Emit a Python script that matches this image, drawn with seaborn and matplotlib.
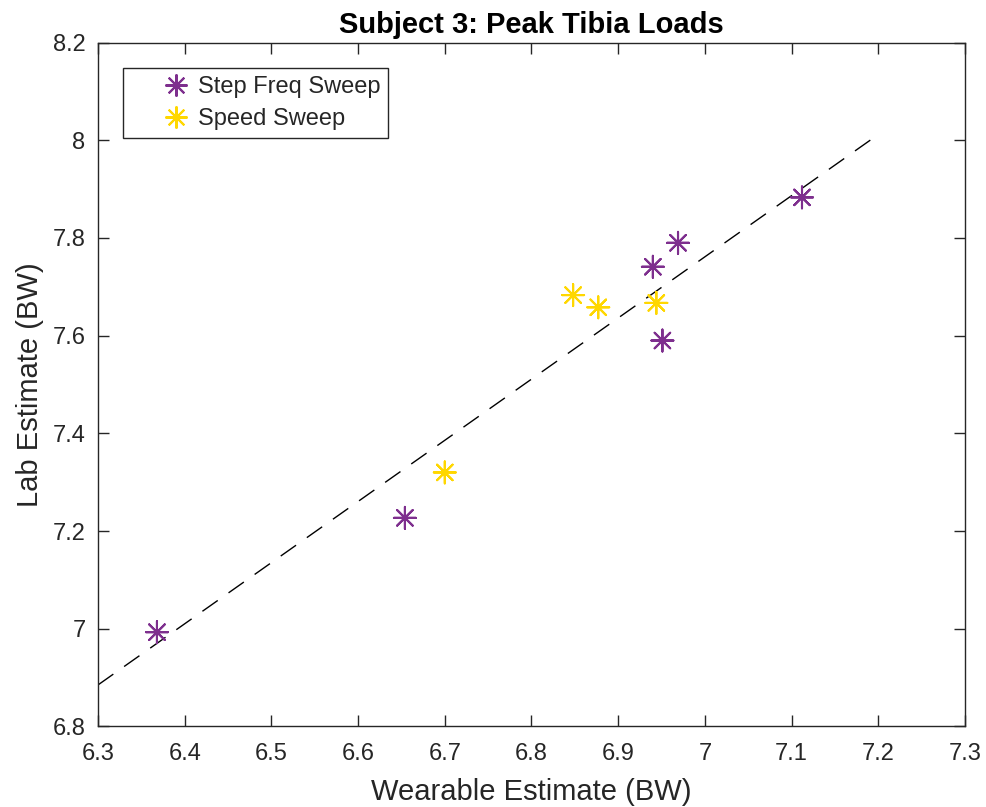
import numpy as np
import pandas as pd
import matplotlib
matplotlib.use("Agg")
import matplotlib.pyplot as plt
import seaborn as sns

# ---- data ----
step_x = [6.368, 6.654, 6.940, 6.969, 6.951, 7.112]
step_y = [6.993, 7.227, 7.741, 7.790, 7.590, 7.883]
speed_x = [6.848, 6.877, 6.944, 6.700]
speed_y = [7.683, 7.658, 7.667, 7.320]
fit_x = [6.30, 7.193]
fit_y = [6.885, 8.003]
series_names = ["Step Freq Sweep", "Speed Sweep"]
x_ticks = [6.3, 6.4, 6.5, 6.6, 6.7, 6.8, 6.9, 7.0, 7.1, 7.2, 7.3]
x_ticklabels = ["6.3", "6.4", "6.5", "6.6", "6.7", "6.8", "6.9", "7", "7.1", "7.2", "7.3"]
y_ticks = [6.8, 7.0, 7.2, 7.4, 7.6, 7.8, 8.0, 8.2]
y_ticklabels = ["6.8", "7", "7.2", "7.4", "7.6", "7.8", "8", "8.2"]

df = pd.DataFrame({
    "x": step_x + speed_x,
    "y": step_y + speed_y,
    "series": [series_names[0]] * len(step_x) + [series_names[1]] * len(speed_x),
})

sns.set_theme(style="white")
plt.rcParams["font.family"] = ["Liberation Sans", "DejaVu Sans"]

fig = plt.figure(figsize=(9.87, 8.07), dpi=100)
ax = fig.add_axes([0.0993, 0.0998, 0.8784, 0.8475])

ax.plot(fit_x, fit_y, color="black", lw=1.0, linestyle=(0, (13.5, 9.5)), zorder=1)

sns.scatterplot(data=df, x="x", y="y", hue="series", ax=ax,
                palette={series_names[0]: "#7E2F8E", series_names[1]: "#FFD700"},
                marker=(8, 2, 0), s=250, linewidth=1.5, zorder=3, legend=True)

ax.set_xlim(6.3, 7.3)
ax.set_ylim(6.8, 8.2)
ax.set_xticks(x_ticks)
ax.set_xticklabels(x_ticklabels)
ax.set_yticks(y_ticks)
ax.set_yticklabels(y_ticklabels)

dark = "#262626"
for sp in ax.spines.values():
    sp.set_visible(True)
    sp.set_color(dark)
    sp.set_linewidth(1.0)
ax.tick_params(direction="in", length=8, width=1.0, color=dark, labelcolor=dark,
               labelsize=17, top=True, right=True, bottom=True, left=True)
ax.tick_params(axis="x", pad=12)
ax.tick_params(axis="y", pad=9)

ax.set_xlabel("Wearable Estimate (BW)", fontsize=21, color=dark, labelpad=9)
ax.set_ylabel("Lab Estimate (BW)", fontsize=21, color=dark, labelpad=6)
ax.set_title("Subject 3: Peak Tibia Loads", fontsize=21, fontweight="bold", color="black", pad=7)

handles, labels = ax.get_legend_handles_labels()
leg = ax.legend(handles, labels, loc="upper left", bbox_to_anchor=(0.029, 0.963),
                borderaxespad=0, fontsize=17, frameon=True, fancybox=False,
                edgecolor=dark, framealpha=1, handlelength=3.8, handletextpad=-1.0,
                borderpad=0.35, labelspacing=0.42, markerscale=1.0)
leg.get_frame().set_linewidth(1.0)

fig.savefig("out.png", dpi=100)
